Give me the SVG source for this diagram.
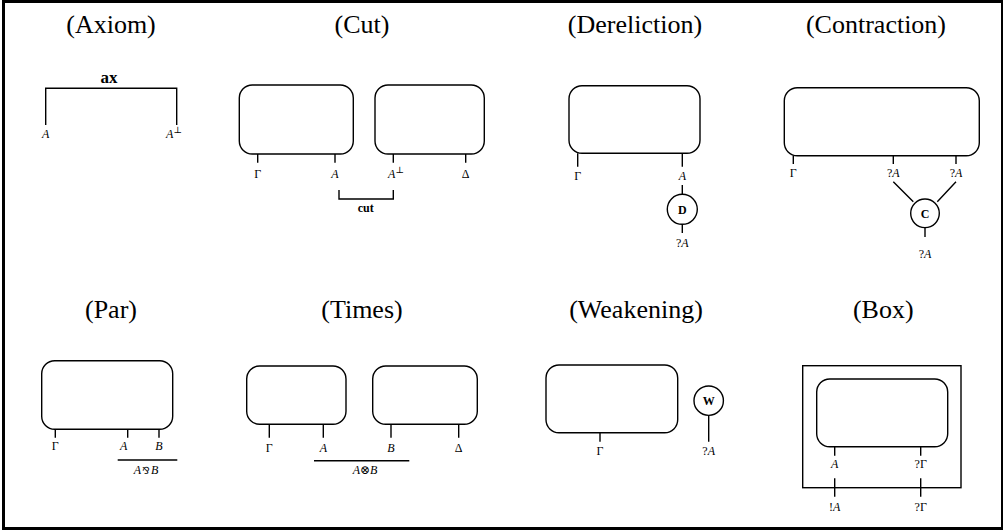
<svg xmlns="http://www.w3.org/2000/svg" width="1003" height="531" viewBox="0 0 1003 531">
<style>
.title{font-family:"Liberation Serif","DejaVu Serif",serif;font-size:26px;text-anchor:middle;fill:#000}
.lbl{font-family:"Liberation Serif","DejaVu Serif",serif;font-size:12px;text-anchor:middle;fill:#000}
.it{font-style:italic}
.bold{font-family:"Liberation Serif","DejaVu Serif",serif;font-weight:bold;text-anchor:middle;fill:#000}
.box{fill:none;stroke:#000;stroke-width:1.4}
.ln{fill:none;stroke:#000;stroke-width:1.4}
.circ{fill:#fff;stroke:#000;stroke-width:1.4}
</style>
<rect x="3.5" y="1.5" width="999" height="527" fill="#fff" stroke="#000" stroke-width="3"/>

<g id="axiom">
<text class="title" x="111" y="33">(Axiom)</text>
<text class="bold" x="109" y="83" font-size="17">ax</text>
<path class="ln" d="M45.7,125 V88.3 H176.7 V125"/>
<text class="lbl it" x="45.7" y="138">A</text>
<text class="lbl" x="174" y="138"><tspan class="it">A</tspan><tspan dy="-5" font-size="9">⊥</tspan></text>
</g>

<g id="cut">
<text class="title" x="362" y="33">(Cut)</text>
<rect id="cut-left" class="box" x="239.3" y="85" width="114" height="69" rx="13"/>
<rect id="cut-right" class="box" x="375" y="85" width="109.3" height="69" rx="13"/>
<text class="lbl" x="257.7" y="178">Γ</text>
<text class="lbl it" x="335" y="178">A</text>
<text class="lbl" x="396" y="178"><tspan class="it">A</tspan><tspan dy="-5" font-size="9">⊥</tspan></text>
<text class="lbl" x="465.7" y="178">Δ</text>
<text class="bold" x="365.7" y="211.5" font-size="12">cut</text>
</g>

<g id="dereliction">
<text class="title" x="635" y="33">(Dereliction)</text>
<rect class="box" x="569" y="85.7" width="131" height="67.6" rx="13"/>
<text class="lbl" x="577.7" y="180">Γ</text>
<text class="lbl it" x="682.3" y="180">A</text>
<circle class="circ" cx="682.3" cy="209.3" r="15"/>
<text class="bold" x="682.3" y="213.5" font-size="12">D</text>
<text class="lbl" x="682.3" y="247.3">?<tspan class="it">A</tspan></text>
</g>

<g id="contraction">
<text class="title" x="876" y="33">(Contraction)</text>
<rect class="box" x="784.3" y="87.7" width="195" height="68" rx="13"/>
<text class="lbl" x="793.3" y="176.7">Γ</text>
<text class="lbl" x="893.3" y="176.7">?<tspan class="it">A</tspan></text>
<text class="lbl" x="956" y="176.7">?<tspan class="it">A</tspan></text>
<circle class="circ" cx="925" cy="213.3" r="14.3"/>
<text class="bold" x="925" y="217.5" font-size="12">C</text>
<text class="lbl" x="925" y="258.3">?<tspan class="it">A</tspan></text>
</g>

<g id="par">
<text class="title" x="111" y="318">(Par)</text>
<rect class="box" x="41.7" y="360.7" width="131" height="68.6" rx="13"/>
<text class="lbl" x="55.3" y="450">Γ</text>
<text class="lbl it" x="123.7" y="450">A</text>
<text class="lbl it" x="159" y="450">B</text>
<text class="lbl" x="146" y="474"><tspan class="it">A</tspan><tspan dx="1" font-family="DejaVu Sans" font-size="10">⅋</tspan><tspan class="it" dx="1">B</tspan></text>
</g>

<g id="times">
<text class="title" x="362" y="318">(Times)</text>
<rect class="box" x="246.7" y="366" width="99.3" height="58.3" rx="13"/>
<rect class="box" x="372.7" y="366" width="104.6" height="58.3" rx="13"/>
<text class="lbl" x="269.3" y="451.7">Γ</text>
<text class="lbl it" x="323.3" y="451.7">A</text>
<text class="lbl it" x="391" y="451.7">B</text>
<text class="lbl" x="458.7" y="451.7">Δ</text>
<text class="lbl" x="365" y="474"><tspan class="it">A</tspan>⊗<tspan class="it">B</tspan></text>
</g>

<g id="weakening">
<text class="title" x="636" y="318">(Weakening)</text>
<rect class="box" x="546" y="365" width="131.7" height="67.7" rx="13"/>
<text class="lbl" x="600" y="455">Γ</text>
<circle class="circ" cx="708.7" cy="400.7" r="14.7"/>
<text class="bold" x="708.7" y="405" font-size="12">W</text>
<text class="lbl" x="708.7" y="455">?<tspan class="it">A</tspan></text>
</g>

<g id="box">
<text class="title" x="883.3" y="318">(Box)</text>
<rect class="box" x="802.7" y="365.7" width="158.3" height="122" rx="0"/>
<rect class="box" x="816.7" y="379" width="131" height="67.7" rx="13"/>
<text class="lbl it" x="834.7" y="468.3">A</text>
<text class="lbl" x="920.7" y="468.3">?Γ</text>
<text class="lbl" x="834.7" y="510.7">!<tspan class="it">A</tspan></text>
<text class="lbl" x="920.7" y="510.7">?Γ</text>
</g>

<g id="connectors">
<path class="ln" d="M257.7,154 V162.7 M335,154 V162.7 M393.3,154 V162.7 M465.7,154 V162.7"/>
<path class="ln" d="M339,190 V199 H393.3 V190"/>
<path class="ln" d="M577.7,153.3 V166.7 M682.3,153.3 V166.7 M682.3,185 V194.3 M682.3,224.3 V233"/>
<path class="ln" d="M793.3,155.7 V164 M893.3,155.7 V164 M956,155.7 V164 M893.3,181.7 L913.3,201.7 M956,181.7 L937.3,201.7 M925,227.6 V237"/>
<path class="ln" d="M55.3,429.3 V437.7 M127.7,429.3 V437.7 M159,429.3 V437.7"/>
<path class="ln" d="M117.7,460 H177.3"/>
<path class="ln" d="M269.3,424.3 V437.7 M323.3,424.3 V437.7 M391,424.3 V437.7 M458.7,424.3 V437.7"/>
<path class="ln" d="M314,460.7 H409.3"/>
<path class="ln" d="M600,432.7 V441.7 M708.7,415.4 V441.7"/>
<path class="ln" d="M834.7,446.7 V455.7 M920.7,446.7 V455.7 M834.7,478.3 V496.7 M920.7,478.3 V496.7"/>
</g>
</svg>
